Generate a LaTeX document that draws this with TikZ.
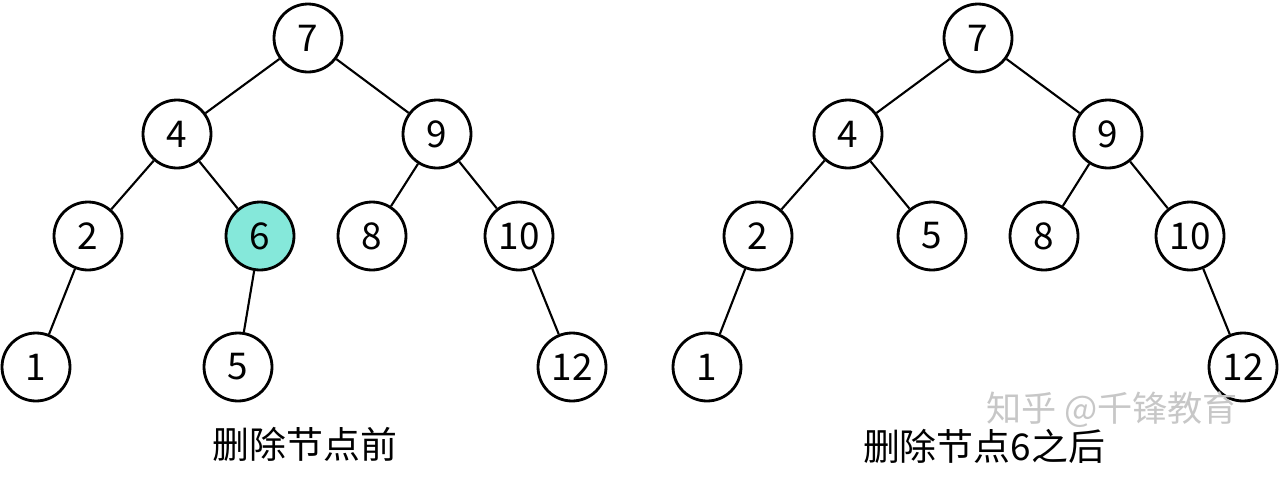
\documentclass[tikz,border=0pt]{standalone}
\usepackage{fontspec}
\setmainfont{Noto Sans CJK SC}
\definecolor{hitteal}{RGB}{133,232,218}
\begin{document}
\begin{tikzpicture}[
    x=0.02cm, y=-0.02cm,
    key/.style={circle, draw, line width=1.6pt, minimum size=1.36cm, inner sep=0pt, font=\fontsize{21}{21}\selectfont},
    edge/.style={line width=1.2pt},
    caption/.style={font=\fontsize{21}{21}\selectfont},
    watermark/.style={font=\fontsize{20}{20}\selectfont, text=black!22}
]
\useasboundingbox (0,0) rectangle (1280,477);

% Before deletion
\node[key] (a7) at (308, 38) {7};
\node[key] (a4) at (177,134) {4};
\node[key] (a9) at (437,134) {9};
\node[key] (a2) at (88,236) {2};
\node[key, fill=hitteal] (a6) at (260,236) {6};
\node[key] (a8) at (372,236) {8};
\node[key] (a10) at (519,236) {10};
\node[key] (a1) at (36,367) {1};
\node[key] (a5) at (238,367) {5};
\node[key] (a12) at (572,367) {12};
\node[caption] (capa) at (305,444) {删除节点前};

% After deletion
\node[key] (b7) at (978, 38) {7};
\node[key] (b4) at (848,134) {4};
\node[key] (b9) at (1108,134) {9};
\node[key] (b2) at (758,236) {2};
\node[key] (b5) at (932,236) {5};
\node[key] (b8) at (1044,236) {8};
\node[key] (b10) at (1190,236) {10};
\node[key] (b1) at (707,367) {1};
\node[key] (b12) at (1243,367) {12};
\node[caption] (capb) at (984,446) {删除节点6之后};
\node[watermark] (mark) at (1112,410) {知乎 @千锋教育};

% Edges
\draw[edge] (a7) -- (a4);
\draw[edge] (a7) -- (a9);
\draw[edge] (a4) -- (a2);
\draw[edge] (a4) -- (a6);
\draw[edge] (a9) -- (a8);
\draw[edge] (a9) -- (a10);
\draw[edge] (a2) -- (a1);
\draw[edge] (a6) -- (a5);
\draw[edge] (a10) -- (a12);

\draw[edge] (b7) -- (b4);
\draw[edge] (b7) -- (b9);
\draw[edge] (b4) -- (b2);
\draw[edge] (b4) -- (b5);
\draw[edge] (b9) -- (b8);
\draw[edge] (b9) -- (b10);
\draw[edge] (b2) -- (b1);
\draw[edge] (b10) -- (b12);

\end{tikzpicture}
\end{document}
